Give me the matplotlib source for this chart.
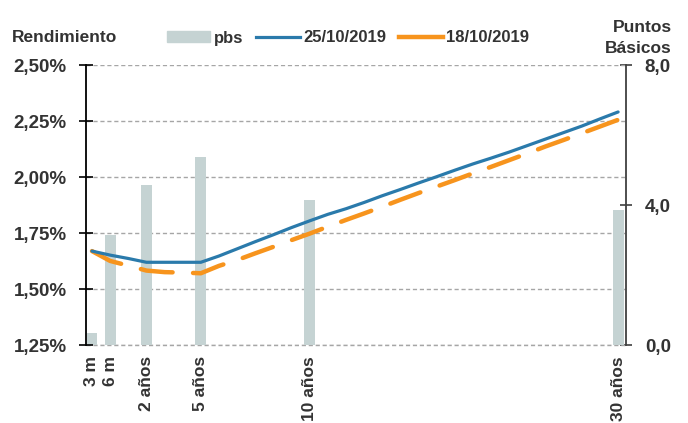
import numpy as np
import matplotlib
matplotlib.use("Agg")
import matplotlib.pyplot as plt
from matplotlib.lines import Line2D
from matplotlib.patches import Patch

plt.rcParams['font.family'] = ['Liberation Sans', 'DejaVu Sans']
plt.rcParams['font.weight'] = 'bold'

# ---- data ----
tick_labels = ['3 m', '6 m', '', '2 años', '', '', '5 años', '', '', '', '', '',
               '10 años'] + [''] * 16 + ['30 años']

bar_tenors = ['3 m', '6 m', '2 años', '5 años', '10 años', '30 años']
pbs = [0.34, 3.14, 4.57, 5.37, 4.14, 3.86]

curve_25 = [1.670, 1.652, 1.637, 1.620, 1.620, 1.620, 1.620, 1.648, 1.680, 1.712,
            1.743, 1.775, 1.805, 1.834, 1.859, 1.887, 1.917, 1.945, 1.974, 2.002,
            2.031, 2.059, 2.085, 2.112, 2.141, 2.170, 2.199, 2.228, 2.260, 2.291]
curve_18 = [1.670, 1.626, 1.605, 1.583, 1.576, 1.574, 1.571, 1.604, 1.630, 1.660,
            1.689, 1.719, 1.748, 1.779, 1.809, 1.838, 1.868, 1.899, 1.929, 1.958,
            1.987, 2.017, 2.046, 2.076, 2.106, 2.137, 2.166, 2.196, 2.226, 2.256]

left_ticks = [1.25, 1.50, 1.75, 2.00, 2.25, 2.50]
right_ticks = [0.0, 4.0, 8.0]

BLUE = '#2a7aab'
ORANGE = '#f7941d'
BAR = '#c5d3d3'
TXT = '#333333'
GRID = '#a6a6a6'

fig = plt.figure(figsize=(6.88, 4.23), dpi=100)
ax_b = fig.add_axes([0.125, 0.184, 0.785, 0.662])
ax_l = ax_b.twinx()

x = np.arange(len(tick_labels))
bar_pos = [tick_labels.index(t) for t in bar_tenors]

# bars on the right (pbs) axis
ax_b.bar(bar_pos, pbs, width=0.6, color=BAR, zorder=2)
ax_b.set_ylim(0, 8)
ax_b.set_xlim(-0.33, len(tick_labels) - 0.56)

# lines on the left (yield) axis
ax_l.plot(x, curve_25, color=BLUE, lw=2.3, solid_capstyle='round', zorder=3)
ax_l.plot(x, curve_18, color=ORANGE, lw=3.2, dashes=(7.2, 4.6),
          dash_capstyle='round', zorder=2)
ax_l.set_ylim(1.25, 2.50)

# axis sides
ax_l.yaxis.tick_left()
ax_l.yaxis.set_label_position('left')
ax_b.yaxis.tick_right()

ax_l.set_yticks(left_ticks)
ax_l.set_yticklabels([f"{v:.2f}%".replace('.', ',') for v in left_ticks])
ax_b.set_yticks(right_ticks)
ax_b.set_yticklabels([f"{v:.1f}".replace('.', ',') for v in right_ticks])

# gridlines at left ticks drawn in the bar axes (behind bars)
ax_b.yaxis.remove_overlapping_locs = False
grid_pos = [(v - left_ticks[0]) / (left_ticks[-1] - left_ticks[0]) * 8 for v in left_ticks]
ax_b.set_yticks(grid_pos, minor=True)
ax_b.tick_params(axis='y', which='minor', length=0)
ax_b.grid(axis='y', which='minor', color=GRID, linestyle=(0, (3, 2)), lw=1)
ax_b.axhline(0, color=GRID, linestyle=(0, (3, 2)), lw=1, clip_on=False, zorder=1)
ax_b.set_axisbelow(True)

for s in ['top', 'bottom', 'left']:
    ax_b.spines[s].set_visible(False)
for s in ['top', 'bottom', 'right']:
    ax_l.spines[s].set_visible(False)
ax_l.spines['left'].set_color('black')
ax_l.spines['left'].set_linewidth(1.3)
ax_b.spines['right'].set_color('#404040')
ax_b.spines['right'].set_linewidth(1.3)

ax_l.tick_params(axis='y', which='major', direction='inout', length=10, width=1.2,
                 color='black', labelsize=13.5, labelcolor=TXT, pad=9)
ax_b.tick_params(axis='y', which='major', direction='inout', length=9, width=1.2,
                 color='#404040', labelsize=13.5, labelcolor=TXT, pad=9)

ax_b.set_xticks(x)
ax_b.set_xticklabels(tick_labels, rotation=90, fontsize=12.5, color=TXT)
ax_b.tick_params(axis='x', length=0, pad=8)
ax_l.tick_params(axis='x', length=0)

# headers
fig.text(12 / 688, 1 - 37 / 423, 'Rendimiento', fontsize=12.5, color=TXT,
         ha='left', va='center')
fig.text(672 / 688, 1 - 38 / 423, 'Puntos\nBásicos', fontsize=12.5, color=TXT,
         ha='right', va='center', linespacing=1.45, multialignment='right')

handles = [Patch(color=BAR), Line2D([], [], color=BLUE, lw=2.3),
           Line2D([], [], color=ORANGE, lw=3.2)]
fig.legend(handles, ['pbs', '25/10/2019', '18/10/2019'], loc='center',
           bbox_to_anchor=(348 / 688, 1 - 38 / 423), ncol=3, frameon=False,
           fontsize=12, handlelength=2.6, handletextpad=0.2, columnspacing=0.8,
           labelcolor=TXT)

fig.savefig('out.png', dpi=100)
